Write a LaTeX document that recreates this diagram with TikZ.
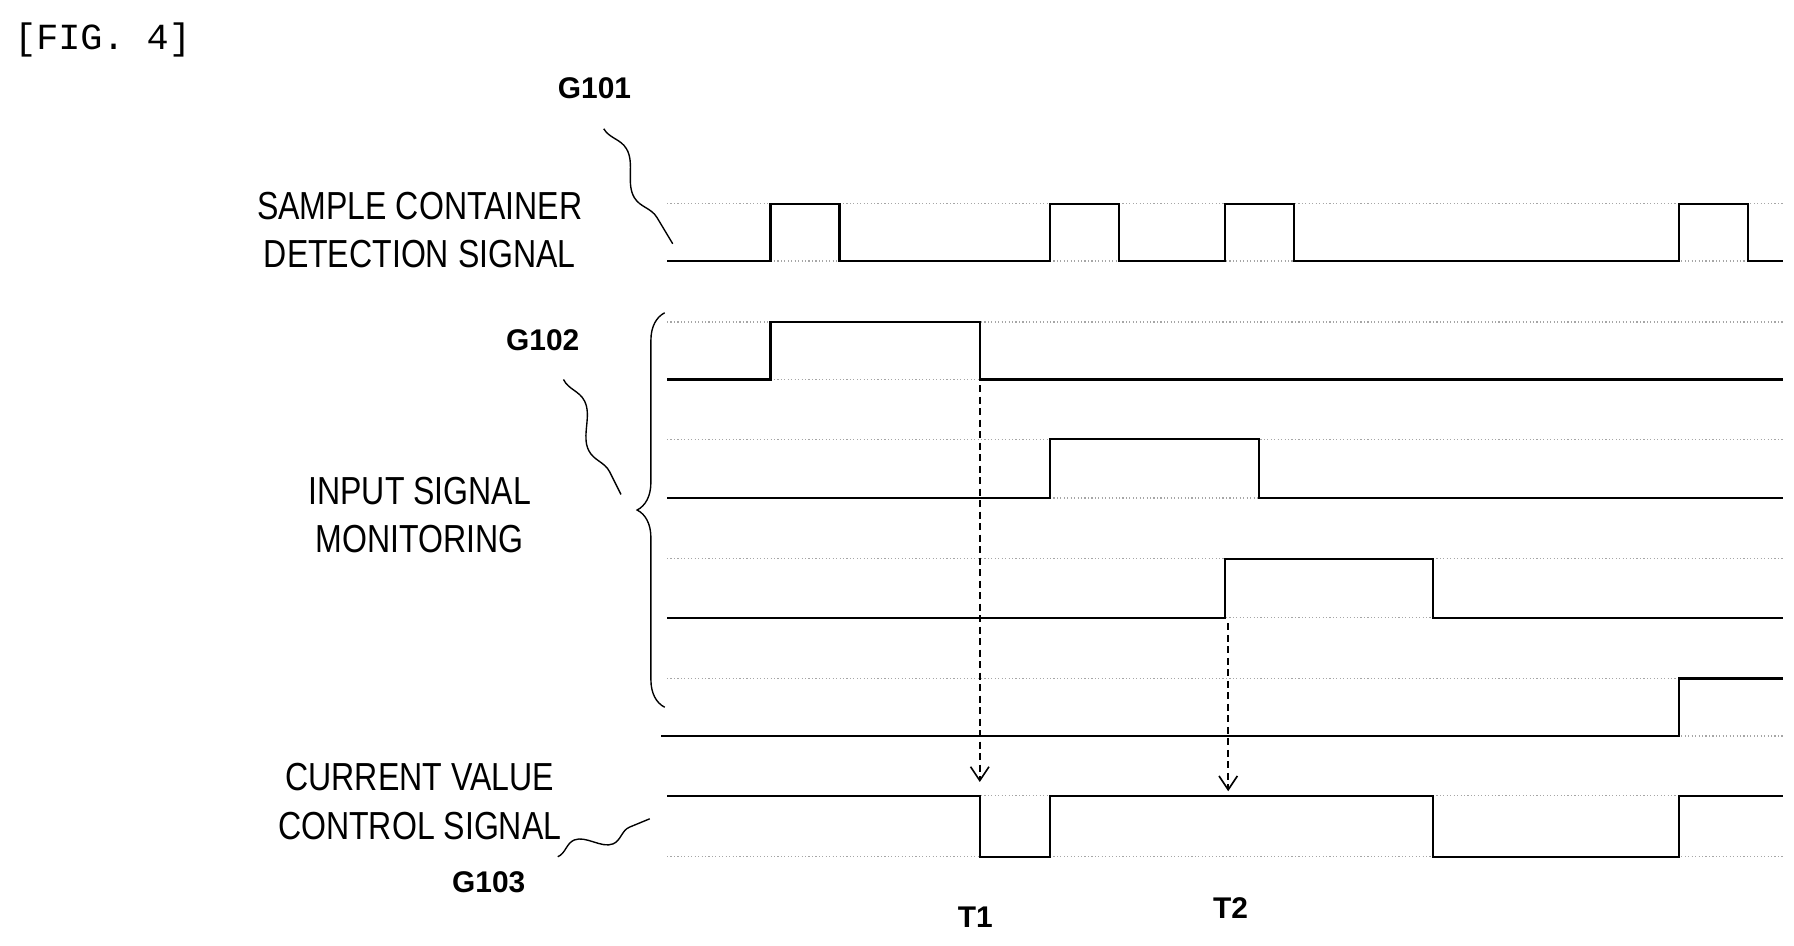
\documentclass[tikz,border=0pt]{standalone}
\usepackage{fontspec}
\setmainfont{Liberation Sans}
\newfontfamily\narrowf[FakeStretch=0.82]{Liberation Sans}
\newfontfamily\monof{Liberation Mono}
\usetikzlibrary{decorations.pathreplacing,decorations.pathmorphing,arrows.meta}
\begin{document}
\begin{tikzpicture}[x=0.5pt,y=-0.5pt,
  lbl/.style={font=\narrowf\fontsize{17}{19}\selectfont,align=center,inner sep=0},
  gl/.style={font=\bfseries\fontsize{13}{15}\selectfont,inner sep=0},
  ref/.style={gray!70,densely dotted,line width=0.5pt},
  sig/.style={black,line width=0.9pt},
  wav/.style={line width=0.6pt,decorate,decoration={snake,amplitude=4,segment length=40}},
  dar/.style={densely dashed,line width=0.7pt,-{Straight Barb[length=6pt,width=8pt]}}]
\useasboundingbox (0,0) rectangle (1560,822);
\node[font=\monof\fontsize{16}{18}\selectfont,anchor=west,inner sep=0] (fig) at (12,35) {[FIG. 4]};
% labels
\node[gl] (g101) at (517,77) {G101};
\node[lbl] (l1) at (365,200) {SAMPLE CONTAINER\\[2pt]DETECTION SIGNAL};
\node[gl] (g102) at (472,296) {G102};
\node[lbl] (l2) at (365,448) {INPUT SIGNAL\\[2pt]MONITORING};
\node[lbl] (l3) at (365,697) {CURRENT VALUE\\[2pt]CONTROL SIGNAL};
\node[gl] (g103) at (425,767) {G103};
\node[gl] (t1) at (848,798) {T1};
\node[gl] (t2) at (1070,790) {T2};
% reference lines
\foreach \y in {177,227,280,330,382,433,486,537,590,640,692,745}
  \draw[ref] (580,\y) -- (1550,\y);
% signals
\draw[sig] (580,227) -- (670,227) -- (670,177) -- (730,177) -- (730,227) -- (913,227) -- (913,177) -- (973,177) -- (973,227) -- (1065,227) -- (1065,177) -- (1125,177) -- (1125,227) -- (1460,227) -- (1460,177) -- (1520,177) -- (1520,227) -- (1550,227);
\draw[sig] (580,330) -- (670,330) -- (670,280) -- (852,280) -- (852,330) -- (1550,330);
\draw[sig] (580,433) -- (913,433) -- (913,382) -- (1095,382) -- (1095,433) -- (1550,433);
\draw[sig] (580,537) -- (1065,537) -- (1065,486) -- (1246,486) -- (1246,537) -- (1550,537);
\draw[sig] (575,640) -- (1460,640) -- (1460,590) -- (1550,590);
\draw[sig] (580,692) -- (852,692) -- (852,745) -- (913,745) -- (913,692) -- (1246,692) -- (1246,745) -- (1460,745) -- (1460,692) -- (1550,692);
% brace
\draw[line width=0.6pt,decorate,decoration={brace,amplitude=12}] (578,615) -- (578,272);
% squiggles
\coordinate (w1a) at (525,112); \coordinate (w1b) at (585,212);
\draw[wav] (w1a) -- (w1b);
\coordinate (w2a) at (490,330); \coordinate (w2b) at (540,430);
\draw[wav] (w2a) -- (w2b);
\coordinate (w3a) at (485,745); \coordinate (w3b) at (565,712);
\draw[wav,decoration={snake,amplitude=4,segment length=30}] (w3a) -- (w3b);
% arrows
\coordinate (a1) at (852,335); \coordinate (a1e) at (852,680);
\coordinate (a2) at (1068,542); \coordinate (a2e) at (1068,688);
\draw[dar] (a1) -- (a1e);
\draw[dar] (a2) -- (a2e);
\end{tikzpicture}
\end{document}
